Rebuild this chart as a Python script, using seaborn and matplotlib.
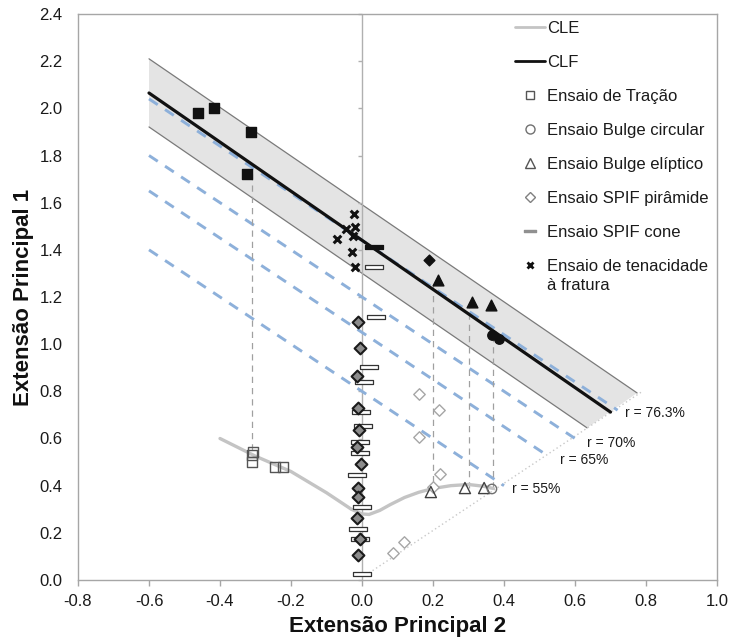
import numpy as np
import pandas as pd
import matplotlib
matplotlib.use("Agg")
import matplotlib.pyplot as plt
from matplotlib.path import Path
from matplotlib.lines import Line2D
import seaborn as sns

# ---------------- data ----------------
x_ticks = [-0.8, -0.6, -0.4, -0.2, 0.0, 0.2, 0.4, 0.6, 0.8, 1.0]
y_ticks = [0.0, 0.2, 0.4, 0.6, 0.8, 1.0, 1.2, 1.4, 1.6, 1.8, 2.0, 2.2, 2.4]

# CLF band and line
band_upper_x = [-0.60, 0.775]
band_upper_y = [2.21, 0.793]
band_lower_x = [-0.60, 0.634]
band_lower_y = [1.921, 0.645]
clf_x = [-0.60, 0.70]
clf_y = [2.065, 0.712]

# constant thickness-reduction lines
r_labels = ["r = 76.3%", "r = 70%", "r = 65%", "r = 55%"]
r_start_x = [-0.60, -0.60, -0.60, -0.60]
r_start_y = [2.04, 1.80, 1.65, 1.40]
r_end_x = [0.72, 0.60, 0.525, 0.40]
r_end_y = [0.72, 0.60, 0.525, 0.40]
r_label_x = [0.741, 0.633, 0.558, 0.422]
r_label_y = [0.708, 0.580, 0.509, 0.386]

# equibiaxial reference (dotted)
diag_x = [0.02, 0.79]
diag_y = [0.03, 0.80]

# CLE curve
cle_x = [-0.40, -0.30, -0.20, -0.10, -0.03, 0.00, 0.02, 0.05, 0.08, 0.12, 0.16, 0.20, 0.25, 0.30, 0.34, 0.37]
cle_y = [0.60, 0.525, 0.46, 0.37, 0.30, 0.28, 0.278, 0.295, 0.32, 0.35, 0.372, 0.388, 0.40, 0.405, 0.398, 0.388]

# dashed verticals linking necking and fracture
drop_x = [-0.31, 0.20, 0.30, 0.37]
drop_y0 = [0.55, 0.37, 0.39, 0.39]
drop_y1 = [1.72, 1.26, 1.17, 1.03]

# Ensaio de Tração
trac_frac_x = [-0.462, -0.417, -0.313, -0.324]
trac_frac_y = [1.98, 2.00, 1.90, 1.72]
trac_neck_x = [-0.307, -0.310, -0.310, -0.245, -0.223]
trac_neck_y = [0.543, 0.530, 0.500, 0.480, 0.480]

# Bulge circular
circ_frac_x = [0.366, 0.386]
circ_frac_y = [1.04, 1.02]
circ_neck_x = [0.366]
circ_neck_y = [0.386]

# Bulge elíptico
elip_frac_x = [0.214, 0.310, 0.363]
elip_frac_y = [1.27, 1.18, 1.166]
elip_neck_x = [0.194, 0.290, 0.344]
elip_neck_y = [0.373, 0.390, 0.390]

# SPIF pirâmide
pir_frac_x = [0.19]
pir_frac_y = [1.357]
pir_zero_x = [-0.011, -0.005, -0.014, -0.011, -0.008, -0.014, -0.002, -0.011, -0.011, -0.014, -0.005, -0.011]
pir_zero_y = [1.093, 0.983, 0.867, 0.730, 0.636, 0.562, 0.492, 0.390, 0.350, 0.261, 0.174, 0.106]
pir_neck_x = [0.161, 0.216, 0.161, 0.220, 0.201, 0.088, 0.119]
pir_neck_y = [0.787, 0.721, 0.608, 0.448, 0.396, 0.113, 0.160]

# SPIF cone
cone_frac_x = [0.034]
cone_frac_y = [1.413]
cone_x = [0.034, 0.039, 0.021, 0.007, -0.003, 0.004, -0.006, -0.005, -0.014, 0.001, -0.010, -0.005, -0.001]
cone_y = [1.326, 1.117, 0.902, 0.840, 0.714, 0.653, 0.584, 0.540, 0.446, 0.308, 0.215, 0.174, 0.027]

# Ensaio de tenacidade à fratura
ten_x = [-0.023, -0.019, -0.044, -0.025, -0.070, -0.027, -0.019]
ten_y = [1.551, 1.496, 1.488, 1.459, 1.445, 1.390, 1.329]

# ---------------- style ----------------
sns.set_theme(style="white")
plt.rcParams['font.family'] = ['Liberation Sans', 'DejaVu Sans']

W, H = 731, 638
fig = plt.figure(figsize=(W / 100, H / 100), dpi=100)
ax = fig.add_axes([78 / W, 1 - 580 / H, (717 - 78) / W, (580 - 14) / H])
ax.set_xlim(-0.8, 1.0)
ax.set_ylim(0.0, 2.4)

frame_col = '#a6a6a6'
for s in ax.spines.values():
    s.set_color(frame_col)
    s.set_linewidth(1.0)

bar_path = Path([(-1, -0.22), (1, -0.22), (1, 0.22), (-1, 0.22), (-1, -0.22)], closed=True)

# band
ax.fill(band_upper_x + band_lower_x[::-1], band_upper_y + band_lower_y[::-1],
        color='#e4e4e4', lw=0, zorder=1)
sns.lineplot(x=band_upper_x, y=band_upper_y, color='#7a7a7a', lw=0.9, sort=False,
             estimator=None, ax=ax, zorder=2)
sns.lineplot(x=band_lower_x, y=band_lower_y, color='#7a7a7a', lw=0.9, sort=False,
             estimator=None, ax=ax, zorder=2)

# dotted diagonal
sns.lineplot(x=diag_x, y=diag_y, color='#c8c8c8', lw=1.0, ls=(0, (1, 2)), sort=False,
             estimator=None, ax=ax, zorder=2)

# zero line with tick marks
ax.axvline(0, color='#b0b0b0', lw=1.0, zorder=2)
ax.plot([0.0] * len(y_ticks), y_ticks, ls='none', marker=0, ms=3.2, mew=1.0,
        color='#b0b0b0', zorder=2, clip_on=False)

# r lines
for i in range(len(r_labels)):
    sns.lineplot(x=[r_start_x[i], r_end_x[i]], y=[r_start_y[i], r_end_y[i]],
                 color='#8db0da', lw=2.1, ls=(0, (3.6, 3.0)), sort=False,
                 estimator=None, ax=ax, zorder=3)
    ax.text(r_label_x[i], r_label_y[i], r_labels[i], fontsize=10, ha='left',
            va='center', color='#1a1a1a', zorder=6)

# vertical dashed
for i in range(len(drop_x)):
    sns.lineplot(x=[drop_x[i], drop_x[i]], y=[drop_y0[i], drop_y1[i]],
                 color='#a0a0a0', lw=0.9, ls=(0, (5, 4)), sort=False,
                 estimator=None, ax=ax, zorder=3)

# CLE and CLF
sns.lineplot(x=cle_x, y=cle_y, color='#c4c4c4', lw=2.4, sort=False, estimator=None,
             ax=ax, zorder=4)
sns.lineplot(x=clf_x, y=clf_y, color='#111111', lw=2.3, sort=False, estimator=None,
             ax=ax, zorder=4)

# markers
def sc(x, y, marker, s, fc, ec, lw=1.0, z=5):
    sns.scatterplot(x=x, y=y, marker=marker, s=s, facecolor=fc, edgecolor=ec,
                    linewidth=lw, ax=ax, zorder=z)

sc(cone_x, cone_y, bar_path, 180, 'white', '#333333', 0.9, 5)
sc(cone_frac_x, cone_frac_y, bar_path, 180, '#111111', '#111111', 0.9, 5)
sc(pir_neck_x, pir_neck_y, 'D', 34, 'white', '#a6a6a6', 1.0, 5)
sc(pir_zero_x, pir_zero_y, 'D', 36, '#8c8c8c', '#1a1a1a', 1.5, 6)
sc(pir_frac_x, pir_frac_y, 'D', 30, '#111111', '#111111', 1.0, 6)
sc(trac_neck_x, trac_neck_y, 's', 46, 'none', '#555555', 1.0, 6)
sc(trac_frac_x, trac_frac_y, 's', 56, '#111111', '#111111', 1.0, 6)
sc(elip_neck_x, elip_neck_y, '^', 64, 'none', '#404040', 1.0, 6)
sc(elip_frac_x, elip_frac_y, '^', 60, '#111111', '#111111', 1.0, 6)
sc(circ_neck_x, circ_neck_y, 'o', 46, 'none', '#707070', 1.0, 6)
sc(circ_frac_x, circ_frac_y, 'o', 46, '#111111', '#111111', 1.0, 6)
sc(ten_x, ten_y, 'x', 30, '#111111', '#111111', 2.2, 6)

# axes ticks
ax.set_xticks(x_ticks)
ax.set_yticks(y_ticks)
ax.set_xticklabels([f"{v:.1f}" for v in x_ticks])
ax.set_yticklabels([f"{v:.1f}" for v in y_ticks])
ax.tick_params(axis='x', direction='out', length=4, width=1, color=frame_col,
               labelsize=12, pad=6, labelcolor='#1a1a1a', bottom=True)
ax.tick_params(axis='y', length=0, labelsize=12, pad=11, labelcolor='#1a1a1a', left=True)
ax.set_xlabel("Extensão Principal 2", fontsize=16, fontweight='bold', labelpad=5,
              color='#111111')
ax.set_ylabel("Extensão Principal 1", fontsize=16, fontweight='bold', labelpad=4,
              color='#111111')

# legend
handles = [
    Line2D([], [], color='#c4c4c4', lw=2.0),
    Line2D([], [], color='#111111', lw=2.0),
    Line2D([], [], ls='none', marker='s', ms=6, mfc='none', mec='#555555', mew=1.0),
    Line2D([], [], ls='none', marker='o', ms=6.5, mfc='none', mec='#707070', mew=1.0),
    Line2D([], [], ls='none', marker='^', ms=7, mfc='none', mec='#555555', mew=1.0),
    Line2D([], [], ls='none', marker='D', ms=5, mfc='none', mec='#808080', mew=1.0),
    Line2D([], [], ls='none', marker=bar_path, ms=8, mfc='#909090', mec='#909090', mew=1.0),
    Line2D([], [], ls='none', marker='x', ms=5, mec='#111111', mew=2.0),
]
labels = ["CLE", "CLF", "Ensaio de Tração", "Ensaio Bulge circular",
          "Ensaio Bulge elíptico", "Ensaio SPIF pirâmide", "Ensaio SPIF cone",
          "Ensaio de tenacidade"]
leg = ax.legend(handles=handles, labels=labels, loc='upper left',
                bbox_to_anchor=((515 - 78) / 639, 1 - (21 - 14) / 566),
                frameon=False, fontsize=12, handlelength=1.8, handletextpad=0.12,
                borderpad=0, borderaxespad=0, labelspacing=1.14)
for t in leg.get_texts():
    t.set_color('#1a1a1a')

fig.canvas.draw()
bb = leg.get_texts()[-1].get_window_extent()
fig.text(bb.x0 / W, (bb.y0 - 4) / H, "à fratura", fontsize=12, color='#1a1a1a',
         ha='left', va='top')

fig.savefig("out.png", dpi=100)
